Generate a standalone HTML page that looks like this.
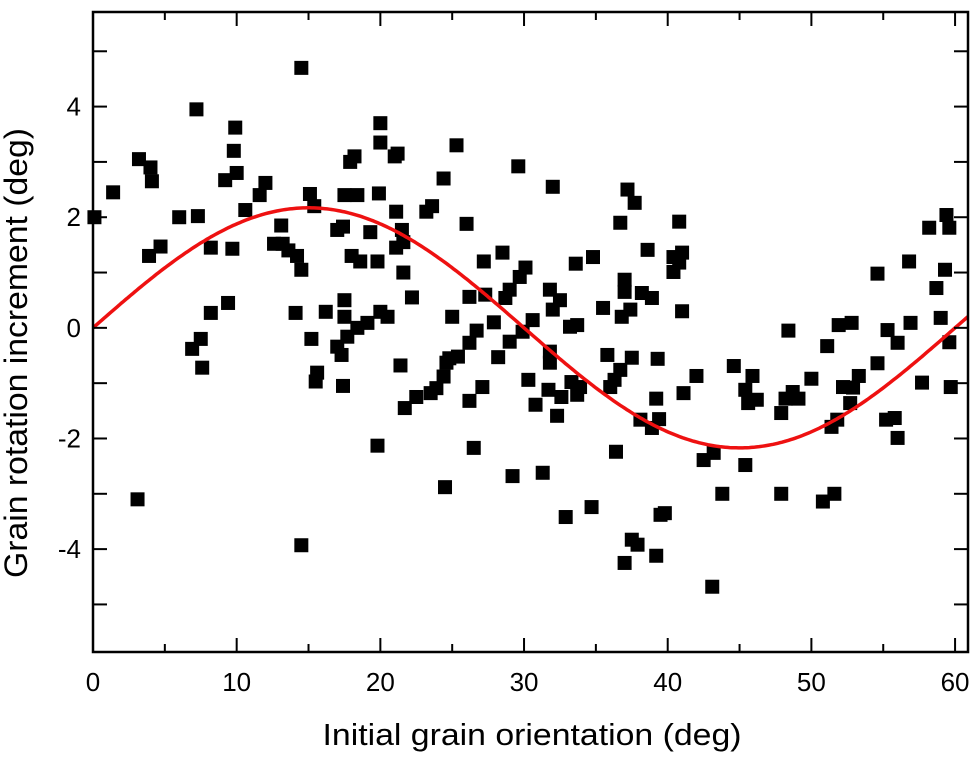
<!DOCTYPE html>
<html><head><meta charset="utf-8">
<style>
html,body{margin:0;padding:0;background:#fff;}
svg{display:block;font-family:"Liberation Sans",Arial,sans-serif;}
</style></head>
<body>
<svg id="chart" width="975" height="760" viewBox="0 0 975 760" xmlns="http://www.w3.org/2000/svg">
<g id="grid"></g>
<g id="pts"></g>
<g id="fit"></g>
<g id="frame"></g>
<text x="532" y="745" font-size="31" text-anchor="middle" textLength="419" lengthAdjust="spacingAndGlyphs" fill="#000">Initial grain orientation (deg)</text>
<text transform="translate(27,353) rotate(-90)" font-size="32" text-anchor="middle" textLength="450" lengthAdjust="spacingAndGlyphs" fill="#000">Grain rotation increment (deg)</text>
</svg>
<script>
const xTicks=[0,10,20,30,40,50,60];
const yTicks=[-4,-2,0,2,4];
const fitAmplitude=2.17;
const xs=[0.1,1.4,3.2,4.0,4.1,3.9,4.7,3.1,6.0,7.2,7.3,6.9,7.6,7.5,8.2,8.2,9.2,9.8,9.9,9.7,9.4,10.0,10.6,11.6,12.0,12.6,13.2,13.6,14.2,14.5,13.1,14.1,14.5,14.5,15.1,15.4,15.2,15.6,15.5,16.2,17.0,17.4,17.5,17.5,17.5,17.0,17.3,17.4,17.7,18.4,19.1,17.9,18.2,18.0,18.6,18.4,19.3,19.8,20.0,20.0,19.9,19.8,20.0,20.5,21.0,21.2,21.1,21.1,21.6,21.5,21.4,21.6,21.7,22.2,22.5,23.5,23.9,23.2,23.6,24.4,24.4,24.6,24.8,25.4,24.5,25.3,25.0,26.2,26.7,26.0,26.5,26.2,27.1,26.2,27.3,27.2,27.9,28.2,
32.0,37.2,37.7,36.7,40.8,28.5,33.6,34.8,38.6,40.4,41.0,40.8,40.4,30.1,29.7,29.0,28.7,31.8,32.5,32.0,37.0,37.0,38.2,38.9,35.5,37.4,36.8,41.0,30.6,29.9,29.0,33.7,33.2,31.8,31.8,30.3,31.7,32.6,30.8,32.3,33.3,33.9,33.7,35.8,37.5,39.3,36.7,36.3,36.0,39.2,41.1,42.0,38.1,38.9,39.4,36.4,29.2,31.3,32.9,34.7,39.5,39.8,37.5,37.9,37.0,39.2,43.1,44.6,45.9,45.4,45.6,46.2,42.5,43.2,45.4,43.8,47.9,50.8,51.6,48.4,47.9,48.2,48.7,49.1,50.0,51.1,51.9,52.8,52.2,52.9,53.3,52.7,51.4,51.8,54.6,54.6,55.3,56.0,55.2,55.8,56.0,56.9,56.8,57.7,58.2,58.7,59.0,59.3,59.4,59.6,59.6,59.7,29.6];
const ys=[2.0,2.45,3.05,2.9,2.65,1.3,1.47,-3.1,2.0,3.95,2.02,-0.38,-0.72,-0.2,1.45,0.27,2.67,3.2,3.62,1.43,0.45,2.8,2.13,2.4,2.62,1.52,1.52,1.4,1.3,1.05,1.85,0.27,-3.93,4.7,2.42,2.2,-0.2,-0.81,-0.97,0.29,1.77,1.83,2.4,0.5,0.2,-0.34,-0.49,-1.05,-0.16,0.0,0.09,3.0,3.1,1.3,1.2,2.4,1.73,1.2,3.7,3.35,2.43,-2.13,0.29,0.2,3.1,3.15,2.1,1.45,1.55,1.77,-0.68,1.0,-1.45,0.55,-1.25,-1.18,-1.09,2.1,2.2,2.7,-0.88,-0.63,-0.55,-0.52,-2.88,3.3,0.2,-0.27,-0.05,1.88,-2.17,0.56,-1.07,-1.32,0.6,1.2,0.1,-0.53,
2.55,2.5,2.26,1.9,1.92,1.36,1.16,1.28,1.41,1.28,1.36,1.18,1.01,1.09,0.92,0.69,0.54,0.69,0.5,0.33,0.87,0.65,0.63,0.54,0.36,0.33,0.2,0.3,0.14,-0.07,-0.25,0.05,0.02,-0.43,-0.63,-0.94,-1.12,-1.25,-1.39,-1.59,-0.98,-1.07,-1.21,-0.49,-0.54,-0.56,-0.76,-0.94,-1.07,-1.28,-1.18,-0.87,-1.66,-1.81,-1.65,-2.24,-2.68,-2.62,-3.42,-3.24,-3.38,-3.35,-3.83,-3.92,-4.25,-4.12,-4.68,-0.69,-0.87,-1.12,-1.36,-1.3,-2.39,-2.26,-2.48,-3.0,-3.0,-3.14,-3.0,-0.05,-1.54,-1.28,-1.16,-1.28,-0.92,-0.33,0.05,0.09,-1.07,-1.08,-0.87,-1.36,-1.79,-1.66,0.98,-0.64,-0.04,-0.27,-1.66,-1.63,-1.99,0.09,1.2,-0.99,1.81,0.72,0.18,1.05,2.04,1.81,-0.26,-1.07,2.92];

const L=93,R=968,T=12,B=652,XMIN=0,XMAX=60.9,YMIN=-5.86,YMAX=5.71;
const sx=v=>L+(v-XMIN)/(XMAX-XMIN)*(R-L);
const sy=v=>B-(v-YMIN)/(YMAX-YMIN)*(B-T);
const NS='http://www.w3.org/2000/svg';
function mk(tag,attrs,parent){const e=document.createElementNS(NS,tag);for(const k in attrs)e.setAttribute(k,attrs[k]);parent.appendChild(e);return e;}
const grid=document.getElementById('grid'),pts=document.getElementById('pts'),fit=document.getElementById('fit'),frame=document.getElementById('frame');

for(let v=-5;v<=5;v++){
  const y=sy(v);
  const t1=mk('line',{x1:L,x2:L+14,y1:y,y2:y,stroke:'#000','stroke-width':2},frame);
  
  
  const t2=mk('line',{x1:R-14,x2:R,y1:y,y2:y,stroke:'#000','stroke-width':2},frame);
  
  
}
yTicks.forEach(v=>{
  const t=mk('text',{x:L-12,y:sy(v)+9,'font-size':26,'text-anchor':'end',fill:'#000'},grid);
  t.textContent=String(v);
  
  
});
for(let v=0;v<=60;v+=5){
  const x=sx(v);
  const len=(v%10===0)?14:8;
  const t1=mk('line',{x1:x,x2:x,y1:B,y2:B-len,stroke:'#000','stroke-width':2},frame);
  
  
  const t2=mk('line',{x1:x,x2:x,y1:T,y2:T+len,stroke:'#000','stroke-width':2},frame);
  
  
}
xTicks.forEach(v=>{
  const t=mk('text',{x:sx(v),y:691,'font-size':26,'text-anchor':'middle',fill:'#000'},grid);
  t.textContent=String(v);
  
  
});
const fr=mk('rect',{x:L,y:T,width:R-L,height:B-T,fill:'none',stroke:'#000','stroke-width':2.5},frame);



const S=14;
xs.forEach((xv,i)=>{
  const r=mk('rect',{x:sx(xv)-S/2,y:sy(ys[i])-S/2,width:S,height:S,fill:'#000'},pts);
  
  
});
let d='';
for(let i=0;i<=400;i++){const xv=XMAX*i/400;const yv=fitAmplitude*Math.sin(6*xv*Math.PI/180);d+=(i?'L':'M')+sx(xv).toFixed(1)+','+sy(yv).toFixed(1);}
const p=mk('path',{d:d,fill:'none',stroke:'#ee1111','stroke-width':3.5},fit);


</script>
</body></html>
